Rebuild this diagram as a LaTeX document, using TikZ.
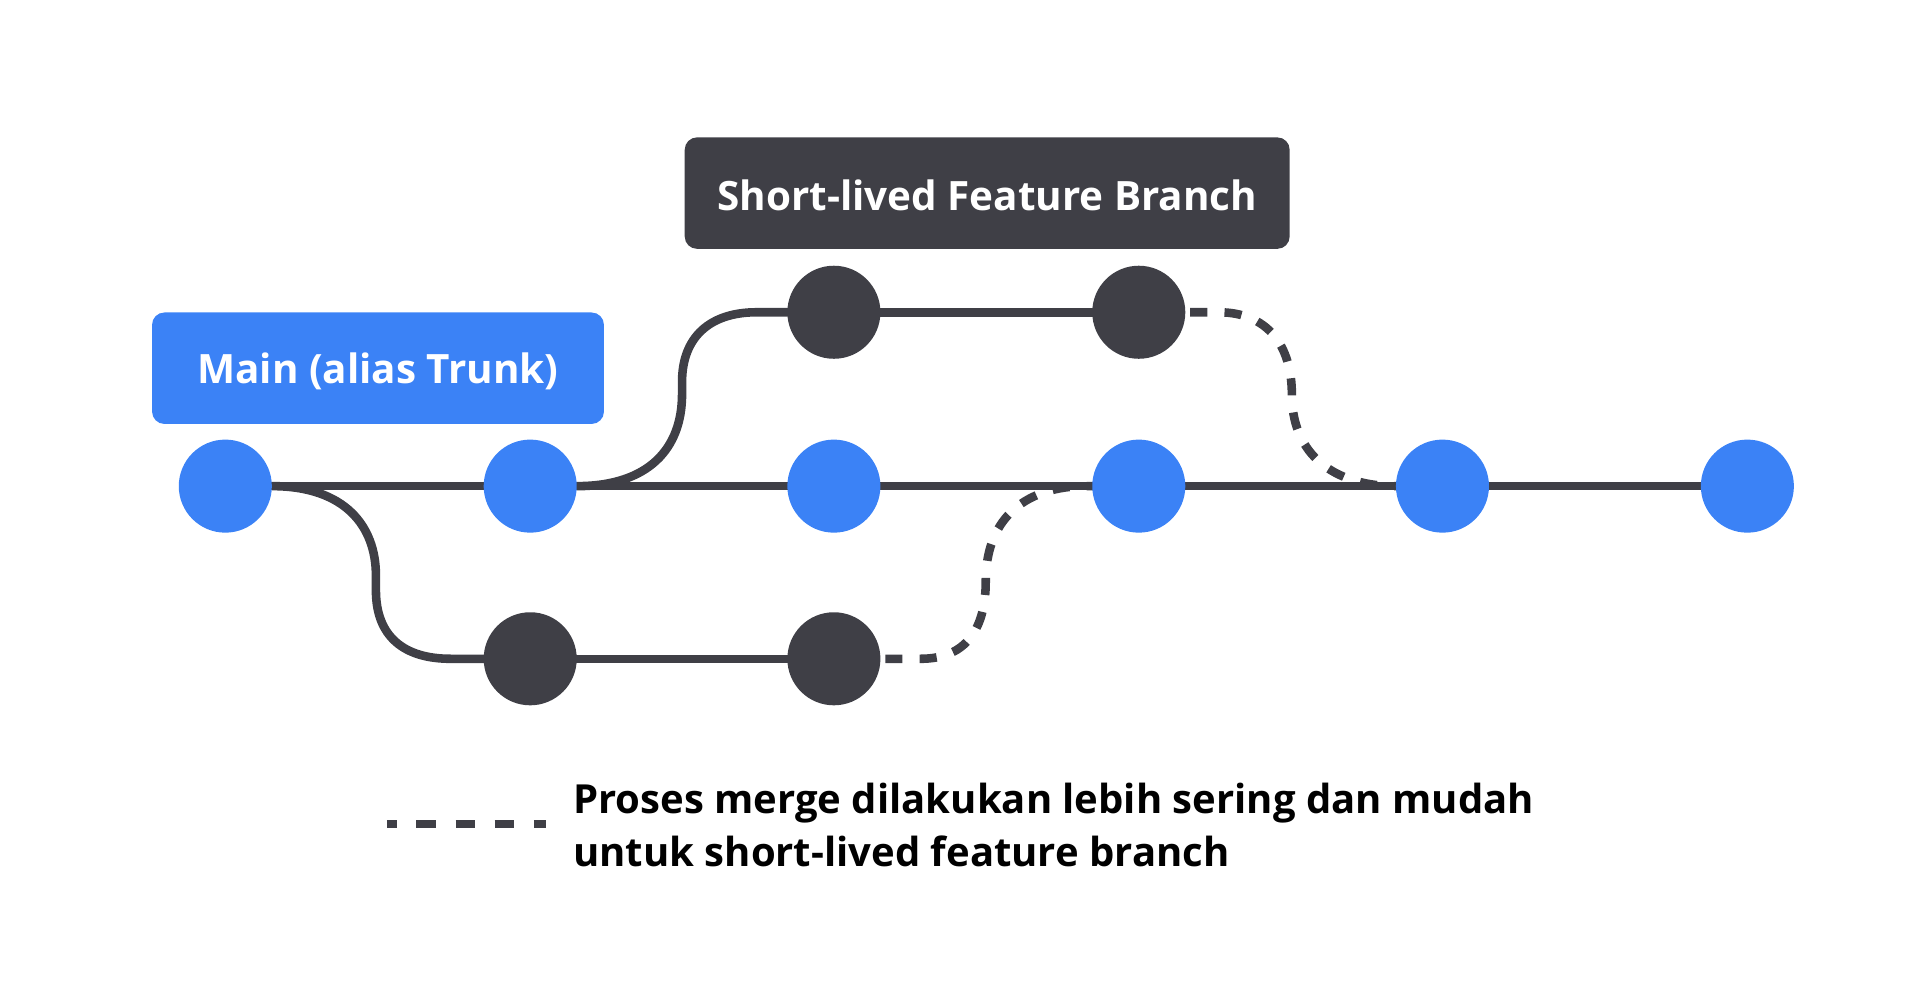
\documentclass[tikz,border=0pt]{standalone}
\usepackage{fontspec}
\setmainfont{Open Sans}
\usetikzlibrary{calc}
\definecolor{cblue}{RGB}{59,130,246}
\definecolor{cdark}{RGB}{63,63,70}
\pgfdeclarelayer{bg}
\pgfsetlayers{bg,main}
\tikzset{
  commit/.style={circle,minimum size=76pt,inner sep=0pt,draw=none},
  maincommit/.style={commit,fill=cblue},
  featcommit/.style={commit,fill=cdark},
  branchline/.style={draw=cdark,line width=7pt},
  mergeline/.style={draw=cdark,line width=7pt,dash pattern=on 14pt off 14pt},
  labelbox/.style={rounded corners=10pt,inner sep=0pt,anchor=north west},
  labeltext/.style={text=white,font=\fontsize{33}{40}\selectfont\bfseries},
  legendtext/.style={font=\fontsize{32.7}{44}\selectfont\bfseries,text=black,align=left,anchor=base west,inner sep=0pt}
}
\begin{document}
\begin{tikzpicture}[x=1pt,y=-1pt]
\useasboundingbox (0,0) rectangle (1568,814);
% label boxes
\node[labelbox,fill=cblue,minimum width=369pt,minimum height=91pt] (mainlbl) at (124,255) {};
\node[labeltext] (maintxt) at ($(mainlbl.center)+(0,2.5)$) {Main (alias Trunk)};
\node[labelbox,fill=cdark,minimum width=494pt,minimum height=91pt] (featlbl) at (559,112) {};
\node[labeltext] (feattxt) at ($(featlbl.center)+(0,1.5)$) {Short-lived Feature Branch};
% commits
\node[maincommit] (m1) at (184,397) {};
\node[maincommit] (m2) at (433,397) {};
\node[maincommit] (m3) at (681,397) {};
\node[maincommit] (m4) at (930,397) {};
\node[maincommit] (m5) at (1178,397) {};
\node[maincommit] (m6) at (1427,397) {};
\node[featcommit] (t1) at (681,255) {};
\node[featcommit] (t2) at (930,255) {};
\node[featcommit] (b1) at (433,538) {};
\node[featcommit] (b2) at (681,538) {};
\begin{pgfonlayer}{bg}
\draw[branchline] (m1.center) -- (m6.center);
\draw[branchline] (t1.center) -- (t2.center);
\draw[branchline] (b1.center) -- (b2.center);
\draw[branchline] (m1.east) .. controls (282,397) and (307,430) .. (307,470) -- (307,482)
  .. controls (307,520) and (330,538) .. (368,538) -- (b1.center);
\draw[branchline] (m2.east) .. controls (530,397) and (557,366) .. (557,322) -- (557,312)
  .. controls (557,275) and (580,255) .. (618,255) -- (t1.center);
\draw[mergeline,dash phase=14pt] (b2.center) -- (752,538) .. controls (790,538) and (805,512) .. (805,475)
  .. controls (805,425) and (835,399) .. (882,397) -- (m4.center);
\draw[mergeline,dash phase=14pt] (t2.center) -- (995,255) .. controls (1035,255) and (1055,282) .. (1055,322)
  .. controls (1055,368) and (1085,395) .. (1135,397) -- (m5.center);
\end{pgfonlayer}
% legend
\coordinate (lg1) at (316,673);
\coordinate (lg2) at (446,673);
\draw[draw=cdark,line width=7pt,dash pattern=on 16pt off 16pt,dash phase=8pt] (lg1) -- (lg2);
\node[legendtext] (legtxt) at (468,708) {Proses merge dilakukan lebih sering dan mudah\\untuk short-lived feature branch};
\end{tikzpicture}
\end{document}
